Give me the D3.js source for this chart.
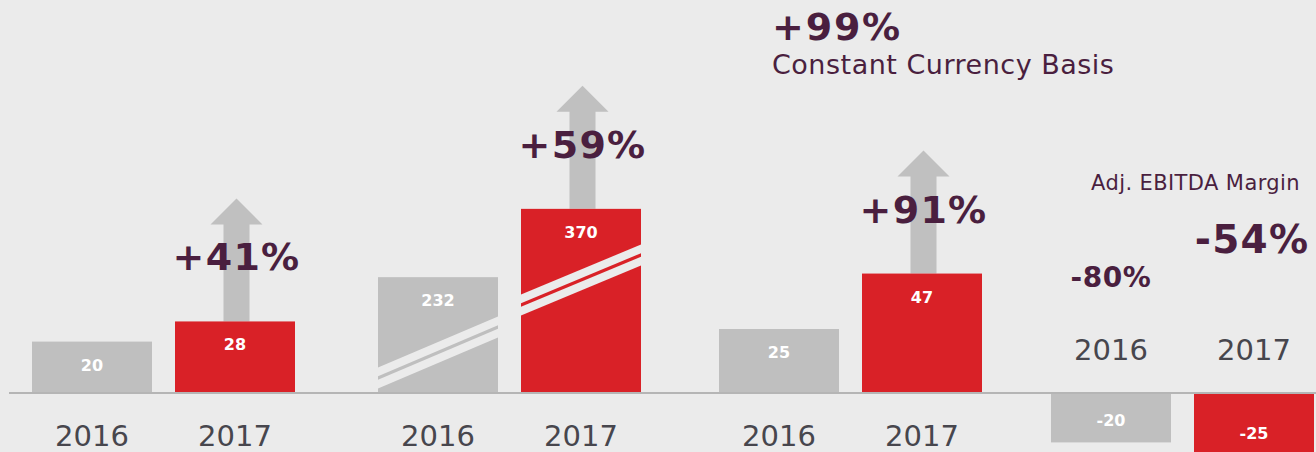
<!DOCTYPE html>
<html lang="en">
  <head>
    <meta charset="UTF-8" />
    <title>Growth 2016 vs 2017</title>
    <script src="https://d3js.org/d3.v7.min.js"></script>
    <style>
      body {
        margin: 0;
        padding: 0;
        background-color: #ebebeb;
        font-family: "DejaVu Sans", Verdana, sans-serif;
      }
      svg {
        display: block;
      }
    </style>
  </head>
  <body>
    <script>
      // data
      const groups = ["seg1", "seg2", "seg3", "adjEbitda"];
      const years = ["2016", "2017"];
      const values2016 = [20, 232, 25, -20];
      const values2017 = [28, 370, 47, -25];
      const growthLabels = ["+41%", "+59%", "+91%", null];
      const marginLabels = ["-80%", "-54%"];
      const headline = "+99%";
      const headlineNote = "Constant Currency Basis";
      const marginTitle = "Adj. EBITDA Margin";

      const width = 1316;
      const height = 452;
      const purple = "#4a1f3f";
      const yearColor = "#47464d";
      const barColors = { 2016: "#bfbfbf", 2017: "#d92127" };
      const bg = "#ebebeb";

      const svg = d3
        .select("body")
        .append("svg")
        .attr("width", width)
        .attr("height", height);

      svg.append("rect").attr("width", width).attr("height", height).attr("fill", bg);

      // panel offsets + inner band for the two years
      const xGroup = d3.scaleOrdinal().domain(groups).range([32, 378, 719, 1051]);
      const xYear = d3
        .scaleBand()
        .domain(years)
        .range([0, 263])
        .paddingInner(23 / 143)
        .paddingOuter(0);
      const bw = xYear.bandwidth();

      // the second panel is drawn on a compressed (broken) scale
      const yMain = d3.scaleLinear().domain([0, 100]).range([392, 140]);
      const yBroken = d3.scaleLinear().domain([0, 500]).range([392, 144.5]);
      const yFor = (g) => (g === "seg2" ? yBroken : yMain);

      const rows = groups.flatMap((g, i) =>
        years.map((yr, j) => ({
          group: g,
          idx: i,
          year: yr,
          value: j === 0 ? values2016[i] : values2017[i],
        }))
      );
      const barX = (d) => xGroup(d.group) + xYear(d.year);
      const barTop = (d) => Math.min(yFor(d.group)(d.value), yFor(d.group)(0));
      const barBottom = (d) => Math.max(yFor(d.group)(d.value), yFor(d.group)(0));

      // growth arrows behind the 2017 bars
      const grown = rows.filter((d) => d.year === "2017" && growthLabels[d.idx]);
      svg
        .selectAll("path.arrow")
        .data(grown)
        .join("path")
        .attr("class", "arrow")
        .attr("fill", "#c0c0c0")
        .attr("d", (d) => {
          const cx = barX(d) + bw / 2 + 1.5;
          const base = barTop(d);
          const tip = base - 123;
          return `M${cx},${tip} L${cx + 26},${tip + 26} L${cx + 13},${tip + 26} L${cx + 13},${base}
                  L${cx - 13},${base} L${cx - 13},${tip + 26} L${cx - 26},${tip + 26} Z`;
        });

      svg
        .selectAll("text.growth")
        .data(grown)
        .join("text")
        .attr("class", "growth")
        .attr("x", (d) => barX(d) + bw / 2 + 1.5)
        .attr("y", (d) => barTop(d) - 51)
        .attr("text-anchor", "middle")
        .attr("font-size", 38)
        .attr("font-weight", "bold")
        .attr("letter-spacing", 1.3)
        .attr("fill", purple)
        .text((d) => growthLabels[d.idx]);

      // bars
      svg
        .selectAll("rect.bar")
        .data(rows)
        .join("rect")
        .attr("class", "bar")
        .attr("x", barX)
        .attr("y", barTop)
        .attr("width", bw)
        .attr("height", (d) => barBottom(d) - barTop(d))
        .attr("fill", (d) => barColors[d.year]);

      // break marks on the compressed bars (px above the baseline, left/right edge)
      const breakMarks = [
        { year: "2016", left: 14, right: 65 },
        { year: "2017", left: 87, right: 137 },
      ];
      breakMarks.forEach((m) => {
        const d = rows.find((r) => r.group === "seg2" && r.year === m.year);
        const x0 = barX(d);
        const x1 = x0 + bw;
        const y0 = yBroken(0) - m.left;
        const y1 = yBroken(0) - m.right;
        svg
          .append("path")
          .attr("fill", bg)
          .attr("d", `M${x0},${y0 - 10.5} L${x1},${y1 - 10.5} L${x1},${y1 + 10.5} L${x0},${y0 + 10.5} Z`);
        svg
          .append("path")
          .attr("fill", barColors[m.year])
          .attr("d", `M${x0},${y0 - 1.8} L${x1},${y1 - 1.8} L${x1},${y1 + 1.8} L${x0},${y0 + 1.8} Z`);
      });

      // baseline
      svg
        .append("line")
        .attr("x1", 9)
        .attr("x2", width)
        .attr("y1", yMain(0) + 1)
        .attr("y2", yMain(0) + 1)
        .attr("stroke", "#b5b5b5")
        .attr("stroke-width", 2);

      // value labels
      svg
        .selectAll("text.value")
        .data(rows)
        .join("text")
        .attr("class", "value")
        .attr("x", (d) => barX(d) + bw / 2)
        .attr("y", (d) => (d.value >= 0 ? barTop(d) + 29 : barBottom(d) - 16))
        .attr("text-anchor", "middle")
        .attr("font-size", 16)
        .attr("font-weight", "bold")
        .attr("fill", "#ffffff")
        .text((d) => d.value);

      // year labels
      svg
        .selectAll("text.year")
        .data(rows)
        .join("text")
        .attr("class", "year")
        .attr("x", (d) => barX(d) + bw / 2)
        .attr("y", (d) => (d.group === "adjEbitda" ? 360 : 446))
        .attr("text-anchor", "middle")
        .attr("font-size", 29)
        .attr("fill", yearColor)
        .text((d) => d.year);

      // margin labels
      const marginRows = rows.filter((d) => d.group === "adjEbitda");
      svg
        .selectAll("text.margin")
        .data(marginRows)
        .join("text")
        .attr("class", "margin")
        .attr("x", (d, i) => barX(d) + bw / 2 + (i ? -2 : 0))
        .attr("y", (d, i) => (i ? 253 : 287))
        .attr("text-anchor", "middle")
        .attr("font-size", (d, i) => (i ? 39 : 28))
        .attr("font-weight", "bold")
        .attr("letter-spacing", (d, i) => (i ? 1.2 : 0.6))
        .attr("fill", purple)
        .text((d, i) => marginLabels[i]);

      svg
        .append("text")
        .attr("x", 1300)
        .attr("y", 190)
        .attr("text-anchor", "end")
        .attr("font-size", 21)
        .attr("letter-spacing", 0.4)
        .attr("fill", purple)
        .text(marginTitle);

      // headline
      svg
        .append("text")
        .attr("x", 772)
        .attr("y", 40)
        .attr("font-size", 38)
        .attr("font-weight", "bold")
        .attr("letter-spacing", 1.8)
        .attr("fill", purple)
        .text(headline);
      svg
        .append("text")
        .attr("x", 772)
        .attr("y", 74)
        .attr("font-size", 27)
        .attr("letter-spacing", 0.5)
        .attr("fill", purple)
        .text(headlineNote);
    </script>
  </body>
</html>
